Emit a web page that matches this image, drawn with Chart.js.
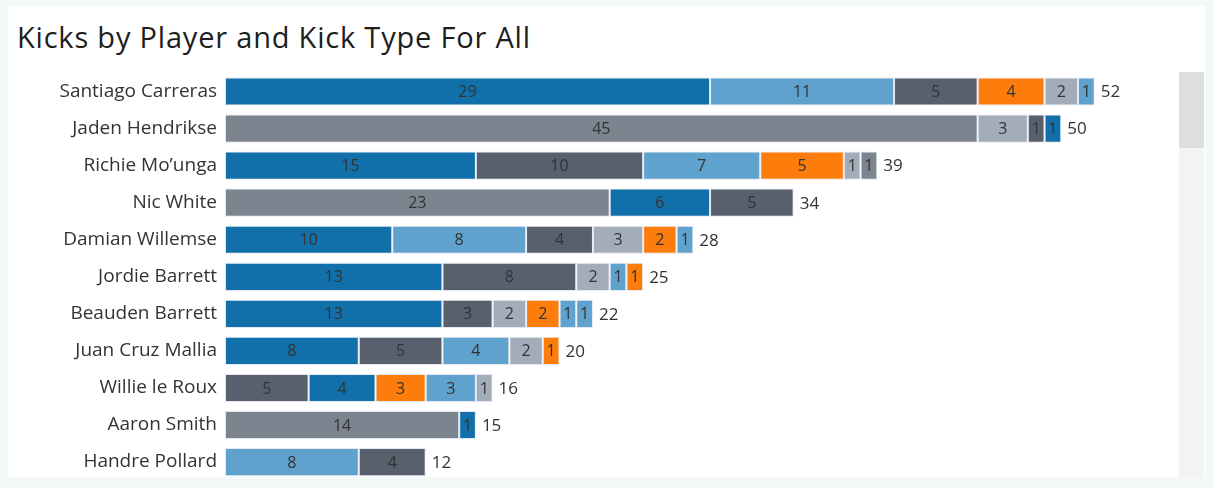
<!DOCTYPE html>
<html>
<head>
<meta charset="utf-8">
<script src="https://cdn.jsdelivr.net/npm/chart.js@4/dist/chart.umd.min.js"></script>
<style>
  html, body { margin: 0; padding: 0; }
  body { width: 1213px; height: 488px; background: #f3f8f8; position: relative; overflow: hidden; font-family: "Open Sans", sans-serif; }
  #panel { position: absolute; left: 8px; top: 6px; width: 1197px; height: 471px; background: #ffffff; }
  #title { position: absolute; left: 17px; top: 17px; font-size: 29px; color: #1e1e1e; white-space: nowrap; letter-spacing: 0.8px; }
  #track { position: absolute; left: 1179px; top: 72px; width: 25px; height: 405px; background: #f3f3f3; }
  #thumb { position: absolute; left: 1179px; top: 72px; width: 25px; height: 76px; background: #dedede; }
  #wrap { position: absolute; left: 0; top: 0; width: 1213px; height: 488px; overflow: hidden; }
</style>
</head>
<body>
<div id="panel"></div>
<div id="track"></div>
<div id="thumb"></div>
<div id="title">Kicks by Player and Kick Type For All</div>
<div id="wrap"><canvas id="c" width="1213" height="500"></canvas></div>
<script>
// Players, top to bottom
const players = [
  "Santiago Carreras", "Jaden Hendrikse", "Richie Mo\u2019unga", "Nic White",
  "Damian Willemse", "Jordie Barrett", "Beauden Barrett", "Juan Cruz Mallia",
  "Willie le Roux", "Aaron Smith", "Handre Pollard"
];

// Kick types and their colours
const kickTypes  = ["Territorial", "Touch Finder", "Contestable", "Grubber", "Chip", "Box Kick", "Cross-field"];
const kickColors = ["#1170aa", "#5fa2ce", "#57606c", "#fc7d0b", "#a3acb9", "#7b848f", "#5fa2ce"];

// Kicks per player for each kick type (same order as players)
const territorial = [29,  1, 15,  6, 10, 13, 13, 8, 4,  1, 0];
const touchFinder = [11,  0,  7,  0,  8,  0,  1, 4, 3,  0, 8];
const contestable = [ 5,  1, 10,  5,  4,  8,  3, 5, 5,  0, 4];
const grubber     = [ 4,  0,  5,  0,  2,  1,  2, 1, 3,  0, 0];
const chip        = [ 2,  3,  1,  0,  3,  2,  2, 2, 1,  0, 0];
const boxKick     = [ 0, 45,  1, 23,  0,  0,  0, 0, 0, 14, 0];
const crossField  = [ 1,  0,  0,  0,  1,  1,  1, 0, 0,  0, 0];

// Left-to-right stacking order of kick types within each player's bar
const stackOrder = [
  [0, 1, 2, 3, 4, 6],
  [5, 4, 2, 0],
  [0, 2, 1, 3, 4, 5],
  [5, 0, 2],
  [0, 1, 2, 4, 3, 6],
  [0, 2, 4, 6, 3],
  [0, 2, 4, 3, 1, 6],
  [0, 2, 1, 4, 3],
  [2, 0, 3, 1, 4],
  [5, 0],
  [1, 2]
];

const typeValues = [territorial, touchFinder, contestable, grubber, chip, boxKick, crossField];

// One dataset per stack slot; each bar picks its own kick type for that slot
const maxSlots = Math.max(...stackOrder.map(o => o.length));
const datasets = [];
for (let s = 0; s < maxSlots; s++) {
  const data = [], colors = [], types = [];
  players.forEach((p, i) => {
    const t = stackOrder[i][s];
    if (t === undefined) { data.push(null); colors.push("transparent"); types.push(null); }
    else { data.push(typeValues[t][i]); colors.push(kickColors[t]); types.push(kickTypes[t]); }
  });
  datasets.push({
    label: "Slot " + (s + 1),
    data: data,
    kickType: types,
    backgroundColor: colors,
    borderColor: "rgba(222,226,240,0.8)",
    borderWidth: 1,
    borderSkipped: false,
    barPercentage: 0.76,
    categoryPercentage: 1.0
  });
}

const totals = players.map((p, i) => typeValues.reduce((sum, arr) => sum + arr[i], 0));

// Writes each segment's count in its middle and the player total after the bar
const barLabels = {
  id: "barLabels",
  afterDatasetsDraw(chart) {
    const ctx = chart.ctx;
    ctx.save();
    ctx.textBaseline = "middle";
    ctx.font = "16px 'Open Sans', sans-serif";
    ctx.fillStyle = "#333333";
    ctx.textAlign = "center";
    chart.data.datasets.forEach((ds, di) => {
      const meta = chart.getDatasetMeta(di);
      meta.data.forEach((el, i) => {
        const v = ds.data[i];
        if (v == null || v === 0) return;
        ctx.fillText(String(v), (el.x + el.base) / 2, el.y + 1);
      });
    });
    ctx.textAlign = "left";
    ctx.font = "17px 'Open Sans', sans-serif";
    const xScale = chart.scales.x;
    const yScale = chart.scales.y;
    totals.forEach((t, i) => {
      ctx.fillText(String(t), xScale.getPixelForValue(t) + 6, yScale.getPixelForValue(i) + 1);
    });
    ctx.restore();
  }
};

new Chart(document.getElementById("c"), {
  type: "bar",
  data: { labels: players, datasets: datasets },
  options: {
    indexAxis: "y",
    responsive: false,
    animation: false,
    layout: { padding: { top: 73, bottom: 0, left: 0, right: 43 } },
    plugins: { legend: { display: false }, tooltip: { enabled: false }, title: { display: false } },
    scales: {
      x: { stacked: true, min: 0, max: 56.5, display: false, grid: { display: false } },
      y: {
        stacked: true,
        grid: { display: false, drawTicks: false },
        border: { display: false },
        ticks: { color: "#333333", padding: 8, font: { family: "'Open Sans', sans-serif", size: 19 } },
        afterFit(scale) { scale.width = 225; }
      }
    }
  },
  plugins: [barLabels]
});
</script>
</body>
</html>
